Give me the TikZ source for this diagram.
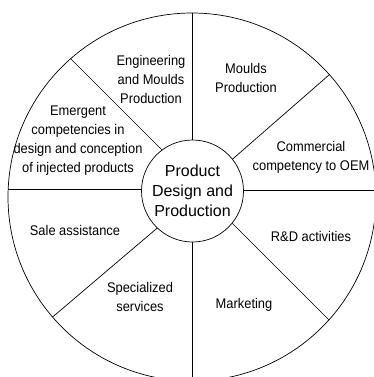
\documentclass[tikz,border=0pt]{standalone}
\usepackage{fontspec}
\setmainfont{Liberation Sans}
\newfontfamily\narrowfont[FakeStretch=0.92]{Liberation Sans}
\begin{document}
\begin{tikzpicture}[x=1pt,y=-1pt,
  lbl/.style={font=\narrowfont\fontsize{14}{19}\selectfont, align=center, inner sep=0pt},
  ring/.style={line width=0.7pt},
  spoke/.style={line width=0.7pt},
  hub/.style={circle, draw, line width=0.7pt, fill=white, minimum size=102pt, inner sep=0pt,
    font=\fontsize{16}{20}\selectfont, align=center}]
\useasboundingbox (0,0) rectangle (374,377);
\clip (0,0) rectangle (374,377);
\coordinate (oc) at (192,197);
\draw[ring] (oc) circle[radius=184pt];
% outer ends of spokes
\coordinate (oT) at (192,13);
\coordinate (oB) at (192,385);
\coordinate (oL) at (8.2,189);
\coordinate (oR) at (380,190);
\coordinate (oTL) at (70.7,58.7);
\coordinate (oTR) at (329.4,74.6);
\coordinate (oBL) at (52.6,317);
\coordinate (oBR) at (328.9,319.9);
% inner ends (hidden under hub)
\coordinate (iT) at (192,150);
\coordinate (iB) at (192,232);
\coordinate (iL) at (150,189);
\coordinate (iR) at (235,190);
\coordinate (iTL) at (168,156);
\coordinate (iTR) at (227,164);
\coordinate (iBL) at (162,224);
\coordinate (iBR) at (228,219);
\foreach \p in {T,B,L,R,TL,TR,BL,BR}{\draw[spoke] (o\p) -- (i\p);}
\node[hub] (c) at (192.5,191) {Product\\Design and\\Production};
\node[lbl] (eng) at (151,79) {Engineering\\and Moulds\\Production};
\node[lbl] (mould) at (246,78) {Moulds\\Production};
\node[lbl] (comm) at (311,157) {Commercial\\competency to OEM};
\node[lbl] (rd) at (311,236) {R\&D activities};
\node[lbl] (mkt) at (244,305) {Marketing};
\node[lbl] (spec) at (140,297) {Specialized\\services};
\node[lbl] (sale) at (75,230) {Sale assistance};
\node[lbl] (emer) at (78,141) {Emergent\\competencies in\\design and conception\\of injected products};
\end{tikzpicture}
\end{document}
